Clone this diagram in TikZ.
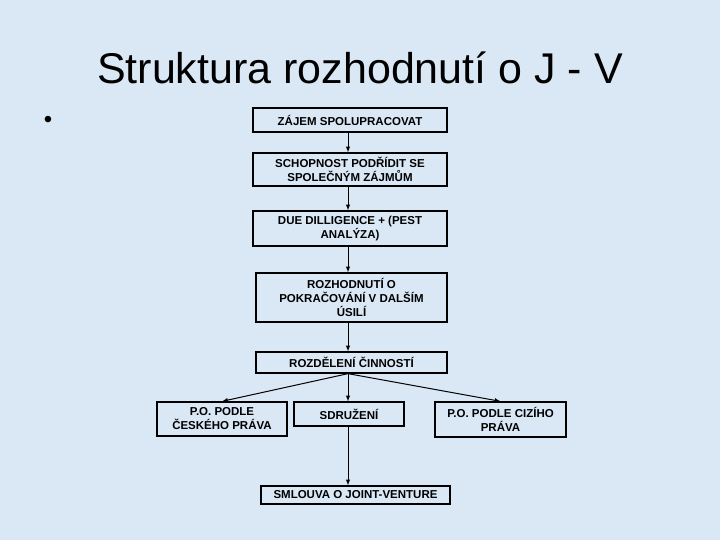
\documentclass[tikz,border=0pt]{standalone}
\usepackage{fontspec}
\setmainfont{Liberation Sans}
\definecolor{bg}{RGB}{218,232,246}
\begin{document}
\begin{tikzpicture}[x=1pt,y=-1pt,
  box/.style={draw=black,line width=1.3pt,align=center,font=\bfseries\fontsize{11.5}{14}\selectfont,inner sep=0pt},
  arr/.style={-latex,line width=1pt}]
\fill[bg] (0,0) rectangle (720,540);
\useasboundingbox (0,0) rectangle (720,540);
\node[font=\fontsize{43}{48}\selectfont] (t) at (360,68) {Struktura rozhodnutí o J - V};
\node[font=\fontsize{24}{24}\selectfont] (b) at (48,122) {•};
\node[box,minimum width=194,minimum height=24] (a) at (350,120) {ZÁJEM SPOLUPRACOVAT};
\node[box,minimum width=194,minimum height=33] (s) at (350,169.5) {SCHOPNOST PODŘÍDIT SE\\SPOLEČNÝM ZÁJMŮM};
\node[box,minimum width=194,minimum height=35] (d) at (350,228.5) {DUE DILLIGENCE + (PEST\\ANALÝZA)};
\node[box,minimum width=191,minimum height=49] (r) at (351.5,297.5) {ROZHODNUTÍ O\\POKRAČOVÁNÍ V DALŠÍM\\ÚSILÍ};
\node[box,minimum width=191,minimum height=21] (c) at (351.5,362.5) {ROZDĚLENÍ ČINNOSTÍ};
\node[box,minimum width=130,minimum height=34] (l) at (222,419) {P.O. PODLE\\ČESKÉHO PRÁVA};
\node[box,minimum width=110,minimum height=24] (m) at (349,414) {SDRUŽENÍ};
\node[box,minimum width=131,minimum height=35] (rr) at (500.5,419.5) {P.O. PODLE CIZÍHO\\PRÁVA};
\node[box,minimum width=189,minimum height=18] (j) at (355.5,495) {SMLOUVA O JOINT-VENTURE};
\draw[arr] (a.south -| 348,0) -- (s.north -| 348,0);
\draw[arr] (s.south -| 348,0) -- (d.north -| 348,0);
\draw[arr] (d.south -| 348,0) -- (r.north -| 348,0);
\draw[arr] (r.south -| 348,0) -- (c.north -| 348,0);
\draw[arr] (c.south -| 348,0) -- (m.north -| 348,0);
\draw[arr] (c.south -| 348,0) -- (l.north);
\draw[arr] (c.south -| 348,0) -- (rr.north);
\draw[arr] (m.south -| 348,0) -- (j.north -| 348,0);
\end{tikzpicture}
\end{document}
